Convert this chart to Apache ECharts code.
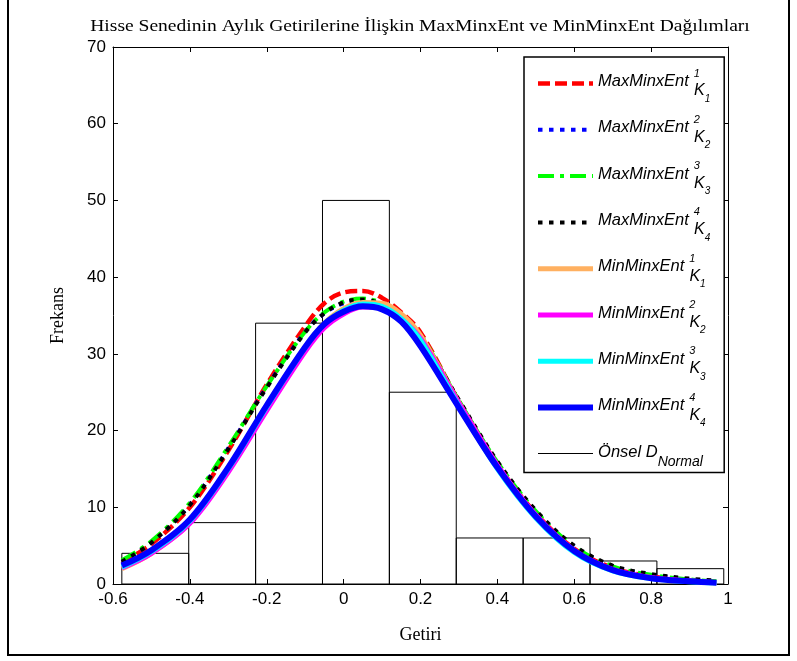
<!DOCTYPE html>
<html>
<head>
<meta charset="utf-8">
<script src="https://cdn.jsdelivr.net/npm/echarts@6/dist/echarts.min.js"></script>
<style>html,body{margin:0;padding:0;background:#fff;}#c{width:797px;height:661px;}</style>
</head>
<body>
<div id="c"></div>
<script>
// ---- data ----
const xTicks = [-0.6, -0.4, -0.2, 0, 0.2, 0.4, 0.6, 0.8, 1];
const yTicks = [0, 10, 20, 30, 40, 50, 60, 70];
const binStart = [-0.577, -0.403, -0.229, -0.055, 0.119, 0.293, 0.467, 0.641, 0.815];
const binEnd   = [-0.403, -0.229, -0.055, 0.119, 0.293, 0.467, 0.641, 0.815, 0.989];
const binCount = [4, 8, 34, 50, 25, 6, 6, 3, 2];
const xs = [-0.577, -0.5, -0.4, -0.3, -0.2, -0.1, -0.05, 0, 0.05, 0.1, 0.15, 0.2, 0.3, 0.4, 0.5, 0.6, 0.7, 0.8, 0.9, 0.97];
const maxEnt1 = [2.8, 5.2, 10.0, 17.4, 26.0, 33.6, 36.6, 38.0, 38.2, 37.3, 35.4, 32.8, 23.8, 15.6, 9.2, 4.6, 2.1, 1.0, 0.45, 0.25];
const maxEnt2 = [2.9, 5.4, 10.4, 17.7, 25.7, 32.9, 35.3, 36.6, 37.0, 36.4, 34.8, 32.2, 23.7, 15.8, 9.5, 4.9, 2.3, 1.2, 0.6, 0.35];
const maxEnt3 = [3.1, 5.6, 10.6, 17.9, 25.8, 32.9, 35.4, 36.8, 37.2, 36.6, 35.0, 32.5, 23.9, 15.9, 9.5, 4.9, 2.3, 1.2, 0.6, 0.35];
const maxEnt4 = [2.9, 5.4, 10.3, 17.6, 25.6, 32.8, 35.3, 36.7, 37.1, 36.4, 34.8, 32.3, 24.0, 16.0, 9.6, 5.0, 2.4, 1.3, 0.7, 0.45];
const minEnt1 = [2.0, 4.0, 8.0, 14.9, 23.0, 30.8, 34.0, 35.9, 36.7, 36.6, 35.2, 32.4, 23.6, 15.4, 8.9, 4.3, 1.8, 0.8, 0.35, 0.17];
const minEnt2 = [2.1, 4.0, 7.9, 14.6, 22.6, 30.3, 33.4, 35.2, 36.1, 35.9, 34.5, 32.0, 23.6, 15.5, 9.0, 4.4, 1.9, 0.85, 0.4, 0.2];
const minEnt3 = [2.2, 4.2, 8.2, 15.0, 23.1, 30.8, 33.9, 35.7, 36.5, 36.2, 34.6, 31.8, 23.2, 15.0, 8.6, 4.1, 1.7, 0.7, 0.3, 0.15];
const minEnt4 = [2.4, 4.4, 8.4, 15.2, 23.3, 30.9, 33.9, 35.5, 36.2, 35.8, 34.2, 31.0, 23.0, 15.2, 8.8, 4.3, 1.8, 0.75, 0.35, 0.17];
const titleText = 'Hisse Senedinin Aylık Getirilerine İlişkin MaxMinxEnt ve MinMinxEnt Dağılımları';

// ---- chart ----
const chart = echarts.init(document.getElementById('c'), null, {renderer: 'canvas'});
const pair = v => xs.map((x, i) => [x, v[i]]);
const histData = binStart.map((s, i) => [s, binEnd[i], binCount[i]]);

const curveDefs = [
  {name: 'Max1', data: maxEnt1, color: '#ff0000', width: 4.5, type: [12, 5]},
  {name: 'Max2', data: maxEnt2, color: '#0000ff', width: 4, type: [4.5, 6.5]},
  {name: 'Max3', data: maxEnt3, color: '#00ff00', width: 4, type: [16, 6, 4, 6]},
  {name: 'Max4', data: maxEnt4, color: '#000000', width: 4, type: [4.5, 6.5]},
  {name: 'Min1', data: minEnt1, color: '#ffb060', width: 5, type: 'solid'},
  {name: 'Min2', data: minEnt2, color: '#ff00ff', width: 5, type: 'solid'},
  {name: 'Min3', data: minEnt3, color: '#00ffff', width: 5, type: 'solid'},
  {name: 'Min4', data: minEnt4, color: '#0000ff', width: 6, type: 'solid'}
];

const legendLabels = {
  Max1: '{z| }{m|MaxMinxEnt}{p|1}{k|K}{s|1}',
  Max2: '{z| }{m|MaxMinxEnt}{p|2}{k|K}{s|2}',
  Max3: '{z| }{m|MaxMinxEnt}{p|3}{k|K}{s|3}',
  Max4: '{z| }{m|MaxMinxEnt}{p|4}{k|K}{s|4}',
  Min1: '{z| }{m|MinMinxEnt}{p|1}{k|K}{s|1}',
  Min2: '{z| }{m|MinMinxEnt}{p|2}{k|K}{s|2}',
  Min3: '{z| }{m|MinMinxEnt}{p|3}{k|K}{s|3}',
  Min4: '{z| }{m|MinMinxEnt}{p|4}{k|K}{s|4}',
  Onsel: '{z| }{o|Önsel D}{n|Normal}'
};

const ital = 'Liberation Sans';
const series = [{
  name: 'Onsel',
  type: 'custom',
  data: histData,
  encode: {x: [0, 1], y: 2},
  itemStyle: {color: '#000'},
  z: 1,
  renderItem: function (params, api) {
    const p0 = api.coord([api.value(0), api.value(2)]);
    const p1 = api.coord([api.value(1), 0]);
    return {
      type: 'rect',
      shape: {x: p0[0], y: p0[1], width: p1[0] - p0[0], height: p1[1] - p0[1]},
      style: {fill: 'none', stroke: '#000', lineWidth: 1}
    };
  }
}];
curveDefs.forEach((c, i) => {
  series.push({
    name: c.name,
    type: 'line',
    data: pair(c.data),
    smooth: 0.35,
    symbol: 'none',
    z: 2 + i,
    color: c.color,
    lineStyle: {color: c.color, width: c.width, type: c.type, cap: 'butt'}
  });
});

const legendData = curveDefs.map(c => ({
  name: c.name,
  lineStyle: {color: c.color, width: c.width, type: c.type, cap: 'butt'}
}));
legendData.push({name: 'Onsel', icon: 'path://M0 0H100V1.8H0Z', itemStyle: {color: '#000', opacity: 1}});

const axisCommon = {
  type: 'value',
  axisLine: {show: true, onZero: false, lineStyle: {color: '#000', width: 1}},
  axisTick: {show: true, inside: true, length: 5, lineStyle: {color: '#000'}},
  splitLine: {show: false}
};
const tickFont = {fontFamily: 'Liberation Sans', fontSize: 17, color: '#000'};
const nameFont = {fontFamily: 'Liberation Serif', fontSize: 18, color: '#000'};

chart.setOption({
  animation: false,
  backgroundColor: '#fff',
  grid: {left: 113, right: 69, top: 47, bottom: 77, show: false},
  xAxis: [
    Object.assign({}, axisCommon, {
      min: xTicks[0], max: xTicks[xTicks.length - 1], interval: 0.2, position: 'bottom',
      name: 'Getiri', nameLocation: 'middle', nameGap: 42,
      nameTextStyle: nameFont,
      axisLabel: Object.assign({margin: 7}, tickFont)
    }),
    Object.assign({}, axisCommon, {
      min: xTicks[0], max: xTicks[xTicks.length - 1], interval: 0.2, position: 'top',
      axisLabel: {show: false}
    })
  ],
  yAxis: [
    Object.assign({}, axisCommon, {
      min: yTicks[0], max: yTicks[yTicks.length - 1], interval: 10, position: 'left',
      name: 'Frekans', nameLocation: 'middle', nameGap: 46, nameRotate: 90,
      nameTextStyle: nameFont,
      axisLabel: Object.assign({margin: 7}, tickFont)
    }),
    Object.assign({}, axisCommon, {
      min: yTicks[0], max: yTicks[yTicks.length - 1], interval: 10, position: 'right',
      axisLabel: {show: false}
    })
  ],
  legend: {
    orient: 'vertical', left: 524, top: 57,
    itemWidth: 55, itemHeight: 40, itemGap: 5.3,
    padding: [6, 14, 3, 11],
    borderColor: '#000', borderWidth: 1.5, backgroundColor: '#fff',
    itemStyle: {opacity: 0},
    data: legendData,
    formatter: n => legendLabels[n],
    textStyle: {
      color: '#000',
      rich: {
        z: {fontSize: 1, lineHeight: 40, width: 0.1, verticalAlign: 'top'},
        m: {fontFamily: ital, fontStyle: 'italic', fontSize: 16.5, verticalAlign: 'top', padding: [10, 0, 0, 0], color: '#000'},
        p: {fontFamily: ital, fontStyle: 'italic', fontSize: 11, verticalAlign: 'top', width: 0.1, padding: [5, 0, 0, 5], color: '#000'},
        k: {fontFamily: ital, fontStyle: 'italic', fontSize: 16, verticalAlign: 'top', padding: [20, 0, 0, 0], color: '#000'},
        s: {fontFamily: ital, fontStyle: 'italic', fontSize: 10, verticalAlign: 'top', padding: [31, 0, 0, 0], color: '#000'},
        o: {fontFamily: ital, fontStyle: 'italic', fontSize: 16.5, verticalAlign: 'top', padding: [11, 0, 0, 0], color: '#000'},
        n: {fontFamily: ital, fontStyle: 'italic', fontSize: 14, verticalAlign: 'top', padding: [22, 0, 0, 0], color: '#000'}
      }
    }
  },
  graphic: [{
    type: 'rect', silent: true, z: -10,
    shape: {x: 8, y: -2, width: 781, height: 657},
    style: {fill: 'none', stroke: '#000', lineWidth: 2}
  }, {
    type: 'text', silent: true, x: 420, y: 27, scaleX: 1.15,
    style: {text: titleText, fontFamily: 'Liberation Serif', fontSize: 17, fill: '#000', align: 'center', verticalAlign: 'middle'}
  }],
  series: series
});
</script>
</body>
</html>
